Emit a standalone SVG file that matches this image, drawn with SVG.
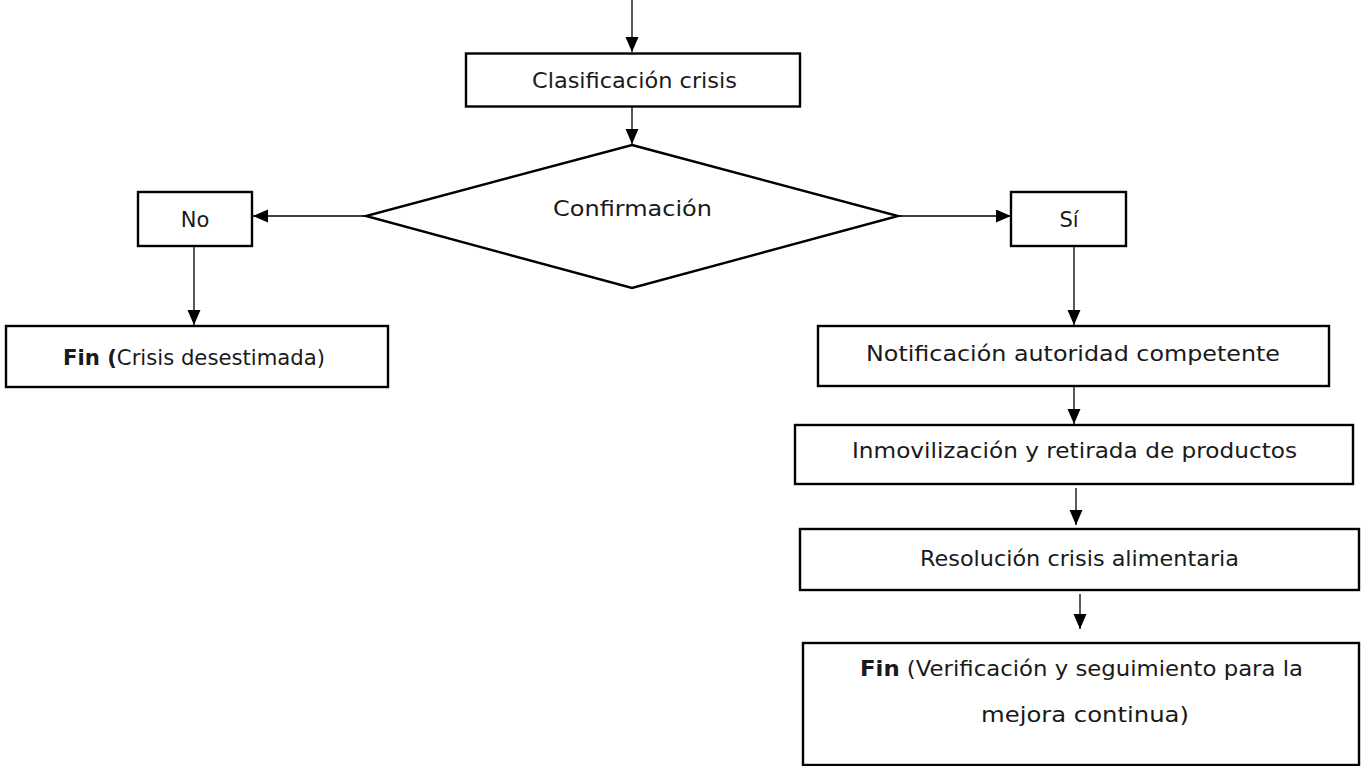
<svg xmlns="http://www.w3.org/2000/svg" width="1363" height="766" viewBox="0 0 1363 766">
<style>
.box{fill:#fff;stroke:#000;stroke-width:2.4}
.con{stroke:#000;stroke-width:1.3;fill:none;marker-end:url(#ah)}
text{font-family:"Century Gothic","DejaVu Sans",sans-serif;font-size:21px;fill:#1a1a1a}
.b{font-weight:bold}
.m{text-anchor:middle}
</style>
<defs>
<marker id="ah" markerUnits="userSpaceOnUse" markerWidth="16" markerHeight="14" refX="15" refY="6.5" orient="auto">
<path d="M0,0 L15,6.5 L0,13 z" fill="#000"/>
</marker>
</defs>
<rect width="1363" height="766" fill="#fff"/>
<g id="connectors">
<line class="con" x1="632" y1="0" x2="632" y2="52"/>
<line class="con" x1="632" y1="107" x2="632" y2="144"/>
<line class="con" x1="366" y1="216" x2="253" y2="216"/>
<line class="con" x1="898" y1="216" x2="1011" y2="216"/>
<line class="con" x1="194" y1="247" x2="194" y2="325"/>
<line class="con" x1="1074" y1="247" x2="1074" y2="325"/>
<line class="con" x1="1074" y1="387" x2="1074" y2="424"/>
<line class="con" x1="1076" y1="488" x2="1076" y2="525"/>
<line class="con" x1="1080" y1="594" x2="1080" y2="629"/>
</g>
<g id="clasificacion">
<rect class="box" x="466" y="53.5" width="334" height="53"/>
<text x="532" y="88" textLength="205" lengthAdjust="spacingAndGlyphs">Clasificación crisis</text>
</g>
<g id="confirmacion">
<polygon class="box" points="632,145 898,216 632,288 366,216"/>
<text x="553" y="216" textLength="159" lengthAdjust="spacingAndGlyphs">Confirmación</text>
</g>
<g id="no">
<rect class="box" x="138" y="192" width="114" height="54"/>
<text class="m" x="195" y="227">No</text>
</g>
<g id="si">
<rect class="box" x="1011" y="192" width="115" height="54"/>
<text class="m" x="1069" y="227">Sí</text>
</g>
<g id="fin-desestimada">
<rect class="box" x="6" y="326" width="382" height="61"/>
<text x="63" y="365" textLength="262" lengthAdjust="spacingAndGlyphs"><tspan class="b">Fin (</tspan>Crisis desestimada)</text>
</g>
<g id="notificacion">
<rect class="box" x="818" y="326" width="511" height="60"/>
<text x="866" y="361" textLength="414" lengthAdjust="spacingAndGlyphs">Notificación autoridad competente</text>
</g>
<g id="inmovilizacion">
<rect class="box" x="795" y="425" width="558" height="59"/>
<text x="852" y="458" textLength="445" lengthAdjust="spacingAndGlyphs">Inmovilización y retirada de productos</text>
</g>
<g id="resolucion">
<rect class="box" x="800" y="529" width="559" height="61"/>
<text x="920" y="566" textLength="319" lengthAdjust="spacingAndGlyphs">Resolución crisis alimentaria</text>
</g>
<g id="fin-verificacion">
<rect class="box" x="803" y="643" width="556" height="122"/>
<text x="860" y="676" textLength="443" lengthAdjust="spacingAndGlyphs"><tspan class="b">Fin</tspan> (Verificación y seguimiento para la</text>
<text x="981" y="722" textLength="208" lengthAdjust="spacingAndGlyphs">mejora continua)</text>
</g>
</svg>
